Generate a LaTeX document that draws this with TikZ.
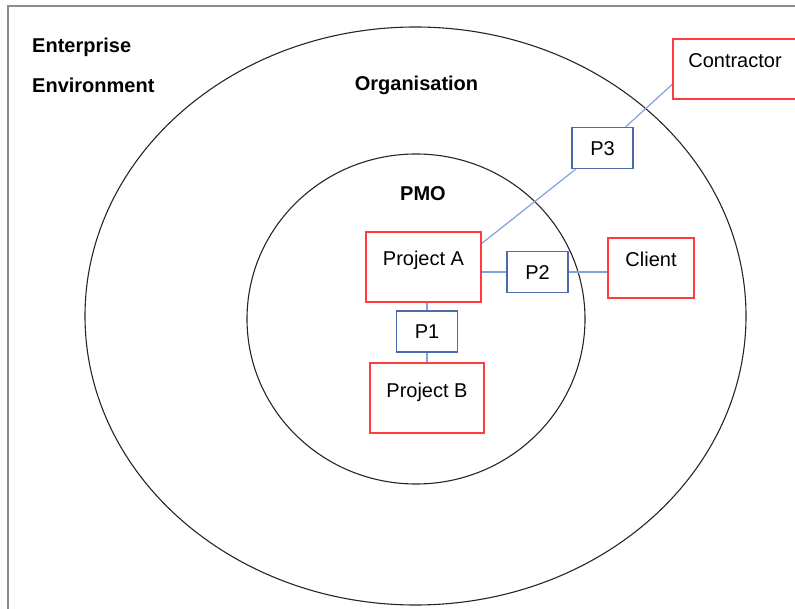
\documentclass[tikz,border=0pt]{standalone}
\usepackage{fontspec}
\setmainfont{Liberation Sans}
\usepackage{xcolor}
\usepackage{tikz}
\usetikzlibrary{calc,positioning}

\definecolor{boxred}{HTML}{FF3B3B}
\definecolor{boxblue}{HTML}{4A6AA8}
\definecolor{linkblue}{HTML}{7FA2DB}
\definecolor{framegray}{HTML}{8C8C8C}

\begin{document}
\begin{tikzpicture}[x=1pt,y=-1pt]

\tikzset{every node/.style={font=\fontsize{20pt}{24pt}\selectfont, inner sep=0pt},
heading/.style={font=\fontsize{20pt}{24pt}\selectfont\bfseries},
projbox/.style={draw=boxred, line width=1.6pt, text height=34pt, text depth=36pt, minimum width=#1},
projbox/.default={115pt},
partybox/.style={draw=boxred, line width=1.6pt, text height=29pt, text depth=31pt, minimum width=#1},
partybox/.default={86pt},
pbox/.style={draw=boxblue, line width=1.4pt, fill=white, minimum width=61pt, minimum height=41pt, text height=14.3pt, text depth=0pt},
link/.style={draw=linkblue, line width=1.2pt}}

\useasboundingbox (0,0) rectangle (795,609);

\draw[framegray, line width=1.3pt] (8,609) -- (8,6) -- (795,6);

\draw[line width=1.1pt, black!85] (415.5,316) ellipse (330.5pt and 289pt);
\draw[line width=1.1pt, black!85] (416,319) ellipse (169pt and 165pt);

\draw (32,53) node[heading, anchor=base west] {Enterprise};
\draw (32,92.5) node[heading, anchor=base west] {Environment};
\draw (416.5,90.5) node[heading, anchor=base] {Organisation};
\draw (423,201) node[heading, anchor=base] {PMO};

\node[projbox=115pt] (pa) at (423.5,267) {Project A};
\node[projbox=114pt] (pb) at (427,398) {Project B};
\node[partybox=86pt] (client) at (651,268) {Client};
\node[partybox=124pt] (contr) at (735,69) {Contractor};

\foreach \i/\x/\y in {1/427/331.5, 2/537.5/272, 3/602.5/148}
  \node[pbox] (p\i) at (\x,\y) {P\i};

\draw[link] (p1) -- (p1 |- pa.south);
\draw[link] (p1) -- (p1 |- pb.north);
\draw[link] (p2) -- (p2 -| pa.east);
\draw[link] (p2) -- (p2 -| client.west);

\coordinate (a3) at ($(pa.north east)!0.17!(pa.south east)$);
\coordinate (c3) at ($(contr.north west)!0.75!(contr.south west)$);
\draw[link] (a3) -- (p3) -- (c3);

\end{tikzpicture}
\end{document}
